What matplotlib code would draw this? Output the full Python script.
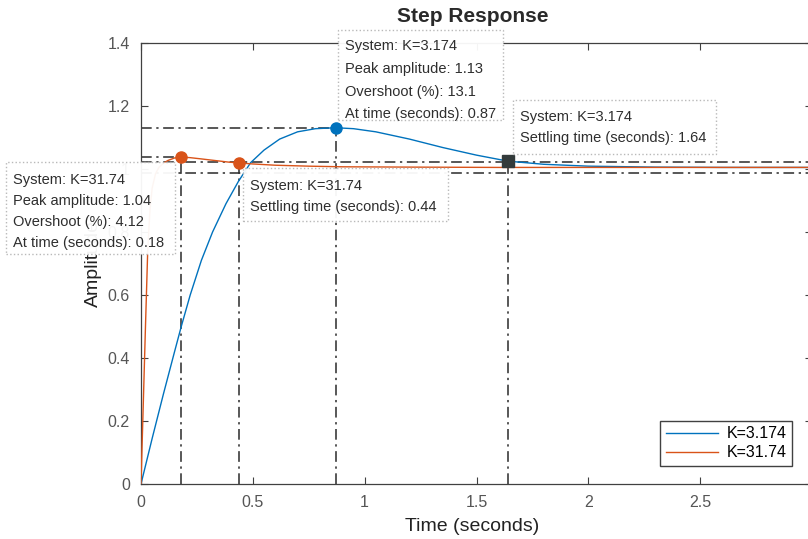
import matplotlib
matplotlib.use("Agg")
import matplotlib.pyplot as plt
from matplotlib.patches import Rectangle

# step response samples
t_k1 = [0, 0.05, 0.1, 0.15, 0.18, 0.22, 0.27, 0.32, 0.38, 0.435, 0.49, 0.55, 0.62,
        0.7, 0.78, 0.87, 0.95, 1.05, 1.2, 1.35, 1.5, 1.64, 1.8, 2.0, 2.3, 2.6, 3.0]
y_k1 = [0, 0.145, 0.285, 0.42, 0.50, 0.60, 0.71, 0.80, 0.89, 0.96, 1.02, 1.06, 1.095,
        1.118, 1.128, 1.131, 1.128, 1.118, 1.095, 1.068, 1.044, 1.025, 1.015, 1.009,
        1.006, 1.005, 1.005]
t_k2 = [0, 0.01, 0.02, 0.03, 0.04, 0.05, 0.065, 0.08, 0.1, 0.12, 0.15, 0.18, 0.22,
        0.27, 0.33, 0.39, 0.44, 0.5, 0.6, 0.75, 0.9, 1.2, 1.6, 2.2, 3.0]
y_k2 = [0, 0.25, 0.5, 0.74, 0.87, 0.94, 0.985, 1.005, 1.018, 1.027, 1.035, 1.038,
        1.036, 1.032, 1.027, 1.022, 1.019, 1.016, 1.012, 1.009, 1.007, 1.006, 1.005,
        1.005, 1.005]

labels = ["K=3.174", "K=31.74"]
colors = ["#0072BD", "#D95319"]

# characteristics: peak and settling points
peak_t = [0.87, 0.18]
peak_y = [1.131, 1.038]
settle_t = [1.64, 0.44]
settle_y = [1.025, 1.019]
band = [1.021, 0.987]

xticks = [0, 0.5, 1, 1.5, 2, 2.5, 3]
yticks = [0, 0.2, 0.4, 0.6, 0.8, 1, 1.2, 1.4]

W, H = 808, 539
fig = plt.figure(figsize=(W / 100, H / 100), dpi=100)
plt.rcParams["font.family"] = ["Liberation Sans", "DejaVu Sans"]
ax = fig.add_axes([141 / W, 1 - 484 / H, 671 / W, 441 / H])

dashdot = (0, (7, 3, 1.5, 3))
lc = "#2a2a2a"

ax.plot(t_k1, y_k1, color=colors[0], lw=1.0, label=labels[0], zorder=3)
ax.plot(t_k2, y_k2, color=colors[1], lw=1.0, label=labels[1], zorder=3)

# settling band
for b in band:
    ax.axhline(b, color=lc, lw=1.1, ls=dashdot, zorder=2)

# peak guide lines
for pt, py in zip(peak_t, peak_y):
    ax.plot([0, pt], [py, py], color=lc, lw=1.1, ls=dashdot, zorder=2)
    ax.plot([pt, pt], [0, py], color=lc, lw=1.1, ls=dashdot, zorder=2)
for st, sy in zip(settle_t, settle_y):
    ax.plot([st, st], [0, sy], color=lc, lw=1.1, ls=dashdot, zorder=2)

ax.plot(peak_t[0], peak_y[0], "o", color=colors[0], ms=8, zorder=5)
ax.plot(settle_t[0], settle_y[0], "s", color="#333b3b", ms=8, zorder=5)
ax.plot(peak_t[1], peak_y[1], "o", color=colors[1], ms=8, zorder=5)
ax.plot(settle_t[1], settle_y[1], "o", color=colors[1], ms=8, zorder=5)

ax.set_xlim(0, 3)
ax.set_ylim(0, 1.4)
ax.set_xticks(xticks)
ax.set_xticklabels(["0", "0.5", "1", "1.5", "2", "2.5", "3"])
ax.set_yticks(yticks)
ax.set_yticklabels(["0", "0.2", "0.4", "0.6", "0.8", "1", "1.2", "1.4"])
ax.tick_params(direction="in", top=True, right=True, length=5, width=0.8,
               labelsize=11.5, labelcolor="#555555", color="#404040", pad=8)
for s in ax.spines.values():
    s.set_color("#404040")
    s.set_linewidth(0.9)

ax.set_title("Step Response", fontsize=15, fontweight="bold", color="#2a2a2a", pad=15)
ax.set_xlabel("Time (seconds)", fontsize=14, color="#222222", labelpad=6)
ax.set_ylabel("Amplitude", fontsize=14, color="#222222", labelpad=4)
ax.title.set_position((0.494, 1.0))
ax.xaxis.set_label_coords(0.494, -0.078)

leg = ax.legend(loc="lower right", bbox_to_anchor=(0.970, 0.041), borderaxespad=0,
                fontsize=11.5, frameon=True, fancybox=False, handlelength=3.3,
                handletextpad=0.5, labelspacing=0.25, borderpad=0.35)
leg.get_frame().set_edgecolor("#111111")
leg.get_frame().set_linewidth(1.0)

# data tip boxes (pixel layout in figure coordinates)
tips = [
    (338, 30, 503, 120, 345, [46, 69, 92, 114],
     ["System: K=3.174", "Peak amplitude: 1.13", "Overshoot (%): 13.1",
      "At time (seconds): 0.87"]),
    (513, 100, 716, 154, 520, [117, 138],
     ["System: K=3.174", "Settling time (seconds): 1.64"]),
    (6, 162, 175, 254, 13, [180, 201, 222, 243],
     ["System: K=31.74", "Peak amplitude: 1.04", "Overshoot (%): 4.12",
      "At time (seconds): 0.18"]),
    (243, 168, 448, 221, 250, [186, 207],
     ["System: K=31.74", "Settling time (seconds): 0.44"]),
]
for x0, y0, x1, y1, tx, tys, lines in tips:
    fig.patches.append(Rectangle((x0 / W, 1 - y1 / H), (x1 - x0) / W, (y1 - y0) / H,
                                 transform=fig.transFigure, facecolor="white",
                                 edgecolor="#b5b5b5", lw=1.0, ls=":", alpha=0.95,
                                 zorder=6))
    for ty, s in zip(tys, lines):
        fig.text(tx / W, 1 - ty / H, s, fontsize=10.5, color="#2e2e2e",
                 ha="left", va="center", zorder=7)

fig.savefig("out.png", dpi=100)
